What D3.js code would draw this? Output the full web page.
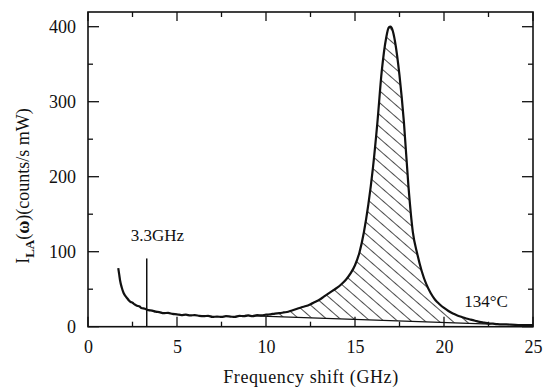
<!DOCTYPE html>
<html><head><meta charset="utf-8">
<script src="https://cdn.jsdelivr.net/npm/d3@7"></script>
<style>
html,body{margin:0;padding:0;background:#fff;}
svg{display:block;}
</style></head>
<body><svg id="c" width="544" height="387"></svg>
<script>
// ---- data ----
const freq = [1.7,1.75,1.8,1.9,2.0,2.1,2.2,2.3,2.4,2.5,2.6,2.75,2.9,3.0,3.2,3.4,3.6,3.8,4.0,4.25,4.5,4.75,5.0,5.25,5.5,5.75,6.0,6.25,6.5,6.75,7.0,7.25,7.5,7.75,8.0,8.25,8.5,8.75,9.0,9.25,9.5,9.75,10.0,10.25,10.5,10.75,11.0,11.25,11.5,11.75,12.0,12.25,12.5,12.75,13.0,13.25,13.5,13.75,14.0,14.25,14.5,14.75,15.0,15.25,15.5,15.75,16.0,16.25,16.5,16.75,16.9,17.0,17.1,17.25,17.5,17.75,18.0,18.25,18.5,18.75,19.0,19.25,19.5,19.75,20.0,20.25,20.5,20.75,21.0,21.25,21.5,21.75,22.0,22.25,22.5,22.75,23.0,23.5,24.0,24.5,25.0];
const intensity = [78,70,62,52,45,41,38,35,33,32,30,28,27,25,24,22,21.5,20,19.5,18,18.5,17,16.5,15.5,16,15,15.5,14.5,14,14.5,13,13.5,13,14,13.5,13,14.5,14,15,14,15.5,15,16,16.5,17.5,18,19,20,22,24,26,27.5,30,33,36,40,44,48,52,57,63,71,82,99,126,163,210,270,340,385,399,400,396,380,335,272,188,126,97,74,57,45,36,30,25,21,17.5,15,13,11,9.5,8,6.5,5.5,4.5,4,3.5,3,2.5,2,2];
const baseFreq = [8.8, 22.6];       // straight baseline under the hatched area
const baseValue = [15, 3.5];
const markerFreq = 3.3, markerTop = 91;
const xTicks = [0,5,10,15,20,25];
const yTicks = [0,100,200,300,400];
const labels = {marker:"3.3GHz", temp:"134\u00B0C", x:"Frequency shift (GHz)"};

const FONT = "Liberation Serif, DejaVu Serif, serif";
// ---- layout ----
const svg = d3.select("#c");
const L = 88, R = 533, T = 12, B = 326.7;
const x = d3.scaleLinear().domain([0,25]).range([L,R]);
const y = d3.scaleLinear().domain([0,400]).range([B,26.7]);

// hatch pattern
const defs = svg.append("defs");
const pat = defs.append("pattern").attr("id","hatch").attr("patternUnits","userSpaceOnUse")
  .attr("width",9).attr("height",9).attr("patternTransform","rotate(-49)");
pat.append("line").attr("x1",0).attr("y1",-1).attr("x2",0).attr("y2",10)
  .attr("stroke","#111").attr("stroke-width",1.5);

const baseAt = f => baseValue[0] + (baseValue[1]-baseValue[0])*(f-baseFreq[0])/(baseFreq[1]-baseFreq[0]);
const pts = [];
pts.push([baseFreq[0], baseValue[0]]);
freq.forEach((f,i)=>{ if(f>baseFreq[0] && f<baseFreq[1]) pts.push([f, Math.max(intensity[i], baseAt(f))]); });
pts.push([baseFreq[1], baseValue[1]]);
svg.append("path")
  .attr("d", d3.line().x(d=>x(d[0])).y(d=>y(d[1]))(pts)+"Z")
  .attr("fill","url(#hatch)").attr("stroke","none");
svg.append("line").attr("x1",x(baseFreq[0])).attr("y1",y(baseValue[0]))
  .attr("x2",x(baseFreq[1])).attr("y2",y(baseValue[1]))
  .attr("stroke","#111").attr("stroke-width",1.3);

// ticks inward on all four sides
const majorX = d3.range(0,26,5), minorX = d3.range(2.5,25,5);
const majorY = d3.range(0,401,100), minorY = d3.range(50,400,100);
const axG = svg.append("g").attr("stroke","#111").attr("stroke-width",1.3);
majorX.forEach(v=>{
  axG.append("line").attr("x1",x(v)).attr("x2",x(v)).attr("y1",B).attr("y2",B-10);
  axG.append("line").attr("x1",x(v)).attr("x2",x(v)).attr("y1",T).attr("y2",T+9);
});
minorX.forEach(v=>{
  axG.append("line").attr("x1",x(v)).attr("x2",x(v)).attr("y1",B).attr("y2",B-5);
  axG.append("line").attr("x1",x(v)).attr("x2",x(v)).attr("y1",T).attr("y2",T+5);
});
majorY.forEach(v=>{
  axG.append("line").attr("x1",L).attr("x2",L+11).attr("y1",y(v)).attr("y2",y(v));
  axG.append("line").attr("x1",R).attr("x2",R-11).attr("y1",y(v)).attr("y2",y(v));
});
minorY.forEach(v=>{
  axG.append("line").attr("x1",L).attr("x2",L+5).attr("y1",y(v)).attr("y2",y(v));
  axG.append("line").attr("x1",R).attr("x2",R-5).attr("y1",y(v)).attr("y2",y(v));
});
svg.append("rect").attr("x",L).attr("y",T).attr("width",R-L).attr("height",B-T)
  .attr("fill","none").attr("stroke","#111").attr("stroke-width",1.6);

// tick labels via d3 axes
const xa = svg.append("g").attr("transform",`translate(0,${B})`)
  .call(d3.axisBottom(x).tickValues(xTicks).tickSize(0).tickPadding(14).tickFormat(d3.format("d")))
  .attr("font-family",FONT).attr("font-size",18);
xa.select(".domain").remove();
xa.selectAll("text").attr("fill","#111");
const ya = svg.append("g").attr("transform",`translate(${L},0)`)
  .call(d3.axisLeft(y).tickValues(yTicks).tickSize(0).tickPadding(12).tickFormat(d3.format("d")))
  .attr("font-family",FONT).attr("font-size",18);
ya.select(".domain").remove();
ya.selectAll("text").attr("fill","#111");

// curve
svg.append("path").datum(freq.map((f,i)=>[f,intensity[i]]))
  .attr("d", d3.line().curve(d3.curveMonotoneX).x(d=>x(d[0])).y(d=>y(d[1])))
  .attr("fill","none").attr("stroke","#111").attr("stroke-width",2.2).attr("stroke-linejoin","round");

// marker line and annotations
svg.append("line").attr("x1",x(markerFreq)).attr("x2",x(markerFreq)).attr("y1",y(0)).attr("y2",y(markerTop))
  .attr("stroke","#111").attr("stroke-width",1.5);
const tg = svg.append("g").attr("font-family",FONT).attr("fill","#111");
tg.append("text").attr("x",157.5).attr("y",240.7).attr("text-anchor","middle")
  .attr("font-size",17).text(labels.marker);
tg.append("text").attr("x",486).attr("y",306.7).attr("text-anchor","middle")
  .attr("font-size",17).text(labels.temp);
tg.append("text").attr("x",311).attr("y",383).attr("text-anchor","middle")
  .attr("font-size",18).attr("letter-spacing",0.6).text(labels.x);
const yt = tg.append("text").attr("transform","translate(29,186) rotate(-90)").attr("text-anchor","middle")
  .attr("font-size",18);
yt.append("tspan").text("I");
yt.append("tspan").attr("font-size",13).attr("font-weight","bold").attr("dy",5).text("LA");
yt.append("tspan").attr("dy",-5).text("(");
yt.append("tspan").attr("font-weight","bold").text("\u03C9");
yt.append("tspan").text(")(counts/s mW)");
</script></body></html>
